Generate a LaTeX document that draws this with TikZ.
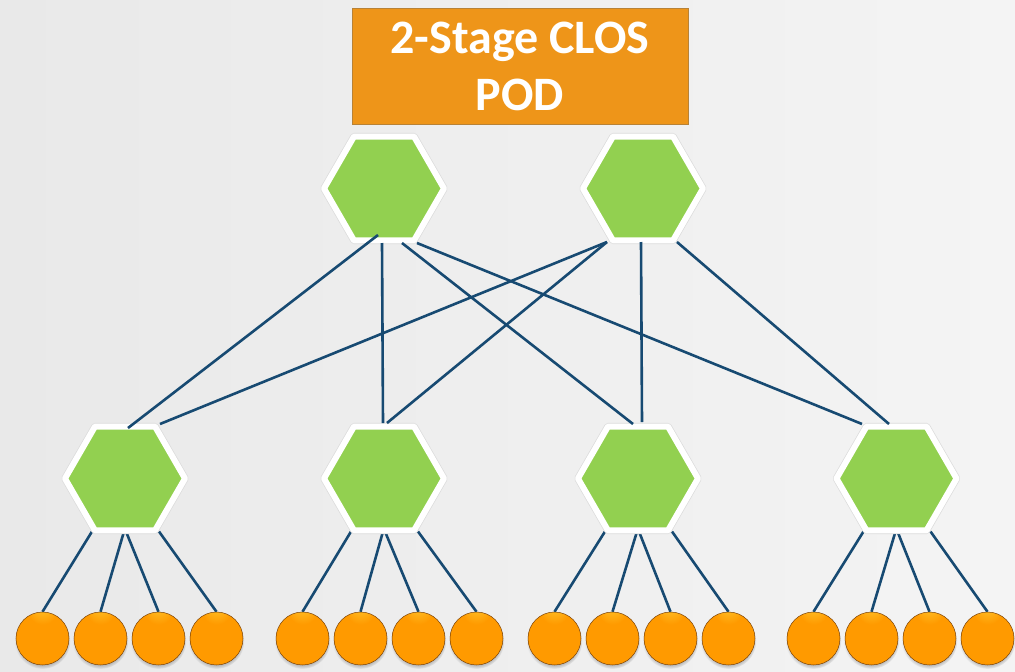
\documentclass[tikz,border=0pt]{standalone}
\usepackage{fontspec}
\setmainfont{Carlito}
\usetikzlibrary{shapes.geometric,calc,shadows}

\definecolor{bgleft}{HTML}{E9E9E9}
\definecolor{bgright}{HTML}{F4F4F4}
\definecolor{titleorange}{HTML}{EE9519}
\definecolor{titleedge}{HTML}{B88236}
\definecolor{hexgreen}{HTML}{92D050}
\definecolor{linkblue}{HTML}{174A72}
\definecolor{ballhi}{HTML}{FFD43A}
\definecolor{ballmid}{HTML}{FF9A00}
\definecolor{balllow}{HTML}{F08800}
\definecolor{balldark}{HTML}{C86400}
\definecolor{ballrim}{HTML}{7A4208}

% glossy orange sphere: bright spot near the top, darker rim
\pgfdeclareradialshading{orb}{\pgfpoint{0bp}{38bp}}{%
  color(0bp)=(ballhi); color(14bp)=(ballmid); color(34bp)=(ballmid);
  color(42bp)=(balllow); color(47bp)=(balldark); color(50bp)=(ballrim)}

\pgfdeclarelayer{links}
\pgfsetlayers{links,main}

\tikzset{
  titlebox/.style={rectangle, fill=titleorange, draw=titleedge, line width=0.5pt,
    minimum width=336pt, minimum height=116pt, inner sep=0pt, text=white,
    align=center, font=\bfseries\fontsize{48}{57}\selectfont},
  switch/.style={regular polygon, regular polygon sides=6, minimum size=120pt,
    inner sep=0pt, fill=hexgreen, draw=white, line width=6pt, line join=round,
    preaction={draw=black!14, line width=7.4pt, line join=round}},
  link/.style={draw=linkblue, line width=2.6pt},
  ball/.style={circle, minimum size=53pt, inner sep=0pt, shade, shading=orb,
    draw=ballrim, line width=0.5pt,
    circular drop shadow={shadow xshift=0pt, shadow yshift=-2.5pt,
      shadow scale=1.05, opacity=0.5}}
}

\begin{document}
\begin{tikzpicture}[x=1pt, y=-1pt]
  % backdrop
  \begin{pgfonlayer}{links}
    \fill[left color=bgleft, right color=bgright] (0,0) rectangle (1015,672);
  \end{pgfonlayer}
  \useasboundingbox (0,0) rectangle (1015,672);

  % title
  \node[titlebox] (title) at (520,66) {2-Stage CLOS\\POD};

  % spine switches
  \node[switch] (T1) at (384,188.5) {};
  \node[switch] (T2) at (643,188.5) {};

  % leaf switches
  \node[switch] (B1) at (125,478.5) {};
  \node[switch] (B2) at (384,478.5) {};
  \node[switch] (B3) at (638,478.5) {};
  \node[switch] (B4) at (896.5,478.5) {};

  % spine-to-leaf links
  \draw[link] ($(T1)+(-6,46.5)$) -- ($(B1)+(3,-50.5)$);
  \draw[link] ($(T1)+(-2,54.5)$) -- ($(B2)+(-1,-55.5)$);
  \draw[link] ($(T1)+(18,54.5)$) -- ($(B3)+(-5,-54.5)$);
  \draw[link] ($(T1)+(33,54.5)$) -- ($(B4)+(-34.5,-54.5)$);
  \draw[link] ($(T2)+(-36,53.5)$) -- ($(B1)+(35,-54.5)$);
  \draw[link] ($(T2)+(-36,53.5)$) -- ($(B2)+(3,-55.5)$);
  \draw[link] ($(T2)+(-2,53.5)$) -- ($(B3)+(4,-56.5)$);
  \draw[link] ($(T2)+(34,53.5)$) -- ($(B4)+(-7.5,-54.5)$);

  % servers under each leaf
  \foreach \k/\g in {1/129.5,2/389.5,3/641.5,4/900.5}{
    \foreach \i/\o in {1/-87,2/-29,3/29,4/87}{
      \node[ball] (c\k\i) at (\g+\o,638.5) {};
    }
  }

  % leaf-to-server links, kept under the shapes
  \begin{pgfonlayer}{links}
    \foreach \k in {1,2,3,4}{
      \draw[link] ($(B\k)+(-33,53)$) -- (c\k1.north);
      \draw[link] ($(B\k)+(-1,53)$)  -- (c\k2.north);
      \draw[link] ($(B\k)+(1,53)$)   -- (c\k3.north);
      \draw[link] ($(B\k)+(34,53)$)  -- (c\k4.north);
    }
  \end{pgfonlayer}
\end{tikzpicture}
\end{document}
